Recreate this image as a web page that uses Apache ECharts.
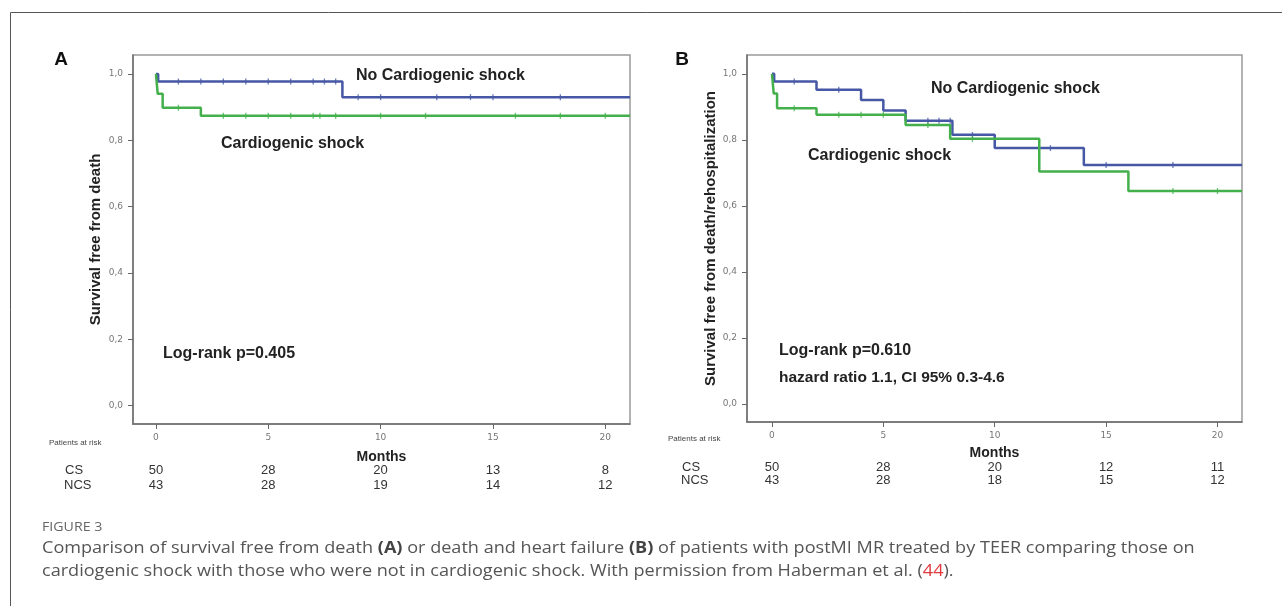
<!DOCTYPE html>
<html>
<head>
<meta charset="utf-8">
<title>Figure 3</title>
<script src="https://cdn.jsdelivr.net/npm/echarts@6/dist/echarts.min.js"></script>
<style>
  html, body { margin: 0; padding: 0; background: #fff; }
  #chart { width: 1282px; height: 606px; }
</style>
</head>
<body>
<div id="chart"></div>
<script>
// panel A - survival free from death
const monthsA_CS = [0, 0.08, 0.3, 2.0, 21.1]
const survA_CS = [1.0, 0.94, 0.898, 0.874, 0.874]
const censorA_CS = [1, 3, 4, 5, 6, 7, 7.3, 8, 10, 12, 16, 18, 20]
const monthsA_NCS = [0, 0.1, 8.3, 21.1]
const survA_NCS = [1.0, 0.977, 0.930, 0.930]
const censorA_NCS = [1, 2, 3, 4, 5, 6, 7, 7.5, 8, 9, 10, 12.5, 14, 15, 18]

// panel B - survival free from death/rehospitalization
const monthsB_CS = [0, 0.08, 0.23, 2.0, 6.0, 8.0, 12.0, 16.0, 21.1]
const survB_CS = [1.0, 0.94, 0.896, 0.876, 0.845, 0.803, 0.704, 0.645, 0.645]
const censorB_CS = [1, 3, 4, 5, 7, 9, 18, 20]
const monthsB_NCS = [0, 0.1, 2.0, 4.0, 5.0, 6.0, 8.1, 10.0, 14.0, 21.1]
const survB_NCS = [1.0, 0.977, 0.952, 0.921, 0.889, 0.858, 0.815, 0.775, 0.724, 0.724]
const censorB_NCS = [1, 3, 7, 7.5, 8, 9, 12.5, 15, 18]

// axes + patients at risk
const tickMonths = [0, 5, 10, 15, 20]
const tickSurv = [0, 0.2, 0.4, 0.6, 0.8, 1.0]
const riskA_CS = [50, 28, 20, 13, 8]
const riskA_NCS = [43, 28, 19, 14, 12]
const riskB_CS = [50, 28, 20, 12, 11]
const riskB_NCS = [43, 28, 18, 15, 12]

const BLUE = '#4657a5'
const GREEN = '#43b04b'
const FONT = '"Liberation Sans", Arial, sans-serif'

function stepData(months, surv) {
  return months.map((m, i) => [m, surv[i]])
}

// survival level of the curve at a censoring time
function censorData(censor, months, surv) {
  return censor.map(t => {
    let s = surv[0]
    for (let i = 0; i < months.length; i++) {
      if (months[i] <= t) s = surv[i]
    }
    return [t, s]
  })
}

function xAxis(gridIndex, min, nameGap) {
  return {
    type: 'value',
    gridIndex,
    min,
    max: 21.1,
    name: 'Months',
    nameLocation: 'middle',
    nameGap,
    nameTextStyle: { fontFamily: FONT, fontWeight: 'bold', fontSize: 14, color: '#222' },
    axisLine: { show: true, onZero: false, lineStyle: { color: '#6e6e6e', width: 1.5 } },
    axisTick: { show: true, length: 5, customValues: tickMonths, lineStyle: { color: '#666' } },
    axisLabel: { customValues: tickMonths, fontSize: 9, color: '#777', margin: 9, fontFamily: '"DejaVu Sans", sans-serif' },
    splitLine: { show: false },
  }
}

function yAxis(gridIndex, name, nameGap) {
  return {
    type: 'value',
    gridIndex,
    min: -0.055,
    max: 1.057,
    name,
    nameLocation: 'middle',
    nameGap,
    nameTextStyle: { fontFamily: FONT, fontWeight: 'bold', fontSize: 15, color: '#222' },
    axisLine: { show: true, onZero: false, lineStyle: { color: '#6e6e6e', width: 1.5 } },
    axisTick: { show: true, length: 5, customValues: tickSurv, lineStyle: { color: '#666' } },
    axisLabel: {
      customValues: tickSurv,
      fontSize: 9,
      color: '#777',
      margin: 10,
      fontFamily: '"DejaVu Sans", sans-serif',
      formatter: v => v.toFixed(1).replace('.', ','),
    },
    splitLine: { show: false },
  }
}

function curve(idx, months, surv, color) {
  return {
    type: 'line',
    xAxisIndex: idx,
    yAxisIndex: idx,
    step: 'end',
    symbol: 'none',
    lineStyle: { color, width: 2.5 },
    data: stepData(months, surv),
  }
}

function censors(idx, censor, months, surv, color) {
  return {
    type: 'scatter',
    xAxisIndex: idx,
    yAxisIndex: idx,
    symbol: 'rect',
    symbolSize: [1.3, 6],
    itemStyle: { color },
    data: censorData(censor, months, surv),
  }
}

function txt(x, y, text, font, color, align) {
  return {
    type: 'text',
    x, y,
    silent: true,
    style: {
      text,
      font,
      fill: color || '#222',
      align: align || 'left',
      textAlign: align || 'left',
      verticalAlign: 'middle',
      textVerticalAlign: 'middle',
    },
  }
}

const chart = echarts.init(document.getElementById('chart'))
const options = {
  animation: false,
  grid: [
    { left: 133, top: 55, width: 497, height: 369, show: true, borderColor: '#999', borderWidth: 1.5 },
    { left: 747, top: 55, width: 495, height: 367, show: true, borderColor: '#999', borderWidth: 1.5 },
  ],
  xAxis: [xAxis(0, -1.02, 26), xAxis(1, -1.12, 24)],
  yAxis: [
    yAxis(0, 'Survival free from death', 30),
    yAxis(1, 'Survival free from death/rehospitalization', 26),
  ],
  series: [
    curve(0, monthsA_NCS, survA_NCS, BLUE),
    curve(0, monthsA_CS, survA_CS, GREEN),
    censors(0, censorA_NCS, monthsA_NCS, survA_NCS, BLUE),
    censors(0, censorA_CS, monthsA_CS, survA_CS, GREEN),
    curve(1, monthsB_NCS, survB_NCS, BLUE),
    curve(1, monthsB_CS, survB_CS, GREEN),
    censors(1, censorB_NCS, monthsB_NCS, survB_NCS, BLUE),
    censors(1, censorB_CS, monthsB_CS, survB_CS, GREEN),
  ],
}
chart.setOption(options)

// texts: labels, at-risk table, caption
const bold = size => 'bold ' + size + 'px ' + FONT
const reg = size => size + 'px ' + FONT
const graphic = [
  {
    type: 'rect',
    silent: true,
    shape: { x: 10.5, y: 12.5, width: 1400, height: 700 },
    style: { fill: 'none', stroke: '#555', lineWidth: 1 },
  },
  txt(61, 60, 'A', bold(19), '#111', 'center'),
  txt(682, 60, 'B', bold(19), '#111', 'center'),
  txt(356, 76, 'No Cardiogenic shock', bold(16)),
  txt(221, 144, 'Cardiogenic shock', bold(16)),
  txt(163, 354, 'Log-rank p=0.405', bold(16)),
  txt(931, 89, 'No Cardiogenic shock', bold(16)),
  txt(808, 156, 'Cardiogenic shock', bold(16)),
  txt(779, 351, 'Log-rank p=0.610', bold(16)),
  txt(779, 378, 'hazard ratio 1.1, CI 95% 0.3-4.6', bold(15.5)),
  txt(49, 443, 'Patients at risk', reg(8), '#444'),
  txt(668, 439, 'Patients at risk', reg(8), '#444'),
  txt(65, 470, 'CS', reg(13), '#333'),
  txt(64, 485, 'NCS', reg(13), '#333'),
  txt(682, 467, 'CS', reg(13), '#333'),
  txt(681, 480, 'NCS', reg(13), '#333'),
]
tickMonths.forEach((m, i) => {
  const xa = chart.convertToPixel({ xAxisIndex: 0 }, m)
  const xb = chart.convertToPixel({ xAxisIndex: 1 }, m)
  graphic.push(txt(xa, 470, String(riskA_CS[i]), reg(13), '#333', 'center'))
  graphic.push(txt(xa, 485, String(riskA_NCS[i]), reg(13), '#333', 'center'))
  graphic.push(txt(xb, 467, String(riskB_CS[i]), reg(13), '#333', 'center'))
  graphic.push(txt(xb, 480, String(riskB_NCS[i]), reg(13), '#333', 'center'))
})

const capFont = '16px "Open Sans", sans-serif'
const capScale = 1.13
graphic.push(Object.assign(txt(42, 527, 'FIGURE 3', '13.5px "Open Sans", sans-serif', '#666'), { scaleX: 1.05 }))
graphic.push({
  type: 'text',
  x: 42, y: 548,
  scaleX: capScale,
  silent: true,
  style: {
    text: '{n|Comparison of survival free from death }{b|(A)}{n| or death and heart failure }{b|(B)}{n| of patients with postMI MR treated by TEER comparing those on}',
    font: capFont,
    fill: '#555',
    verticalAlign: 'middle',
    textVerticalAlign: 'middle',
    rich: {
      n: { font: capFont, fill: '#555' },
      b: { font: 'bold ' + capFont, fill: '#444' },
    },
  },
})
graphic.push({
  type: 'text',
  x: 42, y: 571,
  scaleX: capScale,
  silent: true,
  style: {
    text: '{n|cardiogenic shock with those who were not in cardiogenic shock. With permission from Haberman et al. (}{r|44}{n|).}',
    font: capFont,
    fill: '#555',
    verticalAlign: 'middle',
    textVerticalAlign: 'middle',
    rich: {
      n: { font: capFont, fill: '#555' },
      r: { font: capFont, fill: '#e0393e' },
    },
  },
})
chart.setOption({ graphic })
</script>
</body>
</html>
